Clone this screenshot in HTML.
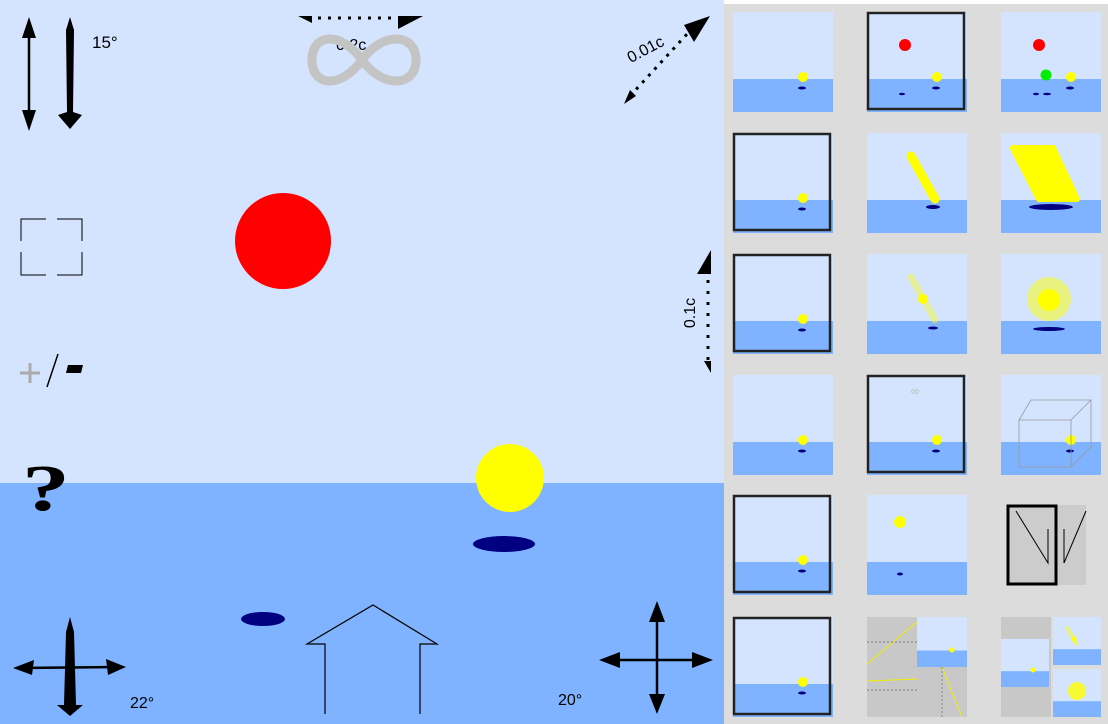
<!DOCTYPE html>
<html><head><meta charset="utf-8"><style>
html,body{margin:0;padding:0;width:1108px;height:724px;overflow:hidden;background:#dcdcdc}
svg{display:block;font-family:"Liberation Sans",sans-serif}
</style></head><body>
<svg width="1108" height="724" viewBox="0 0 1108 724">
<rect x="724" y="0" width="384" height="724" fill="#dcdcdc"/>
<rect x="724" y="0" width="384" height="4" fill="#fff"/>
<g>
<rect x="0" y="0" width="724" height="483" fill="#d4e4ff"/>
<rect x="0" y="483" width="724" height="241" fill="#80b3ff"/>
<circle cx="283" cy="241" r="48" fill="#ff0000"/>
<circle cx="510" cy="478" r="34" fill="#ffff00"/>
<ellipse cx="504" cy="544" rx="31" ry="8" fill="#000080"/>
<ellipse cx="263" cy="619" rx="22" ry="7" fill="#000080"/>
</g>
<g fill="#000">
<line x1="29" y1="22" x2="29" y2="124" stroke="#000" stroke-width="2.5"/>
<path d="M22 38L29 17L36 38z"/><path d="M22 110L29 131L36 110z"/>
<path d="M70 17L74 30L73 112L82 115L70 129L58 115L67 112L66 30z"/>
<text x="92" y="48" font-size="17">15°</text>
</g>
<g stroke="#000" stroke-width="1" fill="none">
<path d="M21 241V219H46M57 219H82V241M82 252V275H57M46 275H21V252"/>
</g>
<g>
<path d="M20 373H40M30 363V383" stroke="#aaa" stroke-width="3"/>
<line x1="47" y1="387" x2="58" y2="354" stroke="#000" stroke-width="1.5"/>
<polygon points="68,365 83,365 81,373 66,373" fill="#000"/>
</g>
<text transform="translate(22,510) scale(1.45,1)" x="0" y="0" font-size="66" font-family="Liberation Serif,serif" font-weight="bold">?</text>
<g>
<line x1="318" y1="18" x2="398" y2="18" stroke="#000" stroke-width="3" stroke-dasharray="3,7"/>
<path d="M298 16L312 16L312 23z"/><path d="M398 16L423 16L398 29z"/>
<text x="336" y="50" font-size="16">0.2c</text>
<path d="M362 60C340 30 312 34 312 60C312 86 340 90 362 60C384 30 416 34 416 60C416 86 384 90 362 60z" fill="none" stroke="#c4c4c4" stroke-width="9"/>
</g>
<g>
<line x1="630" y1="96" x2="688" y2="33" stroke="#000" stroke-width="3" stroke-dasharray="3,6"/>
<path d="M684 25L710 16L694 42z"/><path d="M630 90L624 104L636 96z"/>
<text x="648" y="54" font-size="16" text-anchor="middle" transform="rotate(-28 648 54)">0.01c</text>
</g>
<g>
<line x1="708" y1="280" x2="708" y2="360" stroke="#000" stroke-width="3" stroke-dasharray="3,8"/>
<path d="M697 274L711 250L711 274z"/><path d="M704 361L711 361L711 373z"/>
<text x="695" y="313" font-size="16" text-anchor="middle" transform="rotate(-90 695 313)">0.1c</text>
</g>
<g>
<line x1="18" y1="668" x2="120" y2="667" stroke="#000" stroke-width="2.5"/>
<path d="M13 668L34 660L32 675z"/><path d="M126 667L106 659L108 675z"/>
<path d="M70 617L74 632L76 705L83 705L70 716L57 705L64 705L66 632z"/>
<text x="130" y="708" font-size="16">22°</text>
</g>
<g>
<line x1="604" y1="660" x2="708" y2="660" stroke="#000" stroke-width="2.5"/>
<path d="M599 660L620 652L620 668z"/><path d="M713 660L692 652L692 668z"/>
<line x1="657" y1="606" x2="657" y2="710" stroke="#000" stroke-width="2.5"/>
<path d="M657 601L649 622L665 622z"/><path d="M657 714L649 694L665 694z"/>
<text x="558" y="705" font-size="16">20°</text>
</g>
<path d="M325 714V644H307L373 605L437 644H420V714" fill="none" stroke="#000" stroke-width="1.2"/>
<g id="thumbs"></g>
</svg>
<script>
const NS='http://www.w3.org/2000/svg';
const g=document.getElementById('thumbs');
const cols=[733,867,1001];
const rows=[12,133,254,375,495,617];
function mk(tag,attrs,parent){const e=document.createElementNS(NS,tag);for(const k in attrs)e.setAttribute(k,attrs[k]);(parent||g).appendChild(e);return e;}
function scene(x,y,w,h,parent){
  mk('rect',{x:x,y:y,width:w,height:h,fill:'#d4e4ff'},parent);
  mk('rect',{x:x,y:y+h*0.67,width:w,height:h*0.33,fill:'#80b3ff'},parent);
}
function frame(x,y,parent){mk('rect',{x:x+1,y:y+1,width:96,height:96,fill:'none',stroke:'#222','stroke-width':2.5},parent);}
const types=['plain','framed-red','multi','framed','streak','smear','framed','fade','burst','plain','framed-inf','cube','framed','high','mirror','framed','diagram','mosaic'];
types.forEach((t,i)=>{
  const x=cols[i%3],y=rows[Math.floor(i/3)];
  const th=mk('g',{});
  
  
  if(t==='mirror'){
    mk('rect',{x:x+7,y:y+10,width:78,height:80,fill:'#ccc'},th);
    mk('rect',{x:x+7,y:y+11,width:48,height:78,fill:'none',stroke:'#000','stroke-width':3},th);
    mk('path',{d:`M${x+15} ${y+16}L${x+47} ${y+68}V${y+34}M${x+85} ${y+16}L${x+63} ${y+68}V${y+34}`,fill:'none',stroke:'#000','stroke-width':1},th);
    return;
  }
  if(t==='diagram'){
    mk('rect',{x:x,y:y,width:50,height:100,fill:'#c8c8c8'},th);
    mk('rect',{x:x+50,y:y+50,width:50,height:50,fill:'#c8c8c8'},th);
    scene(x+50,y,50,50,th);
    mk('circle',{cx:x+85,cy:y+33,r:2.5,fill:'#ff0'},th);
    mk('path',{d:`M${x} ${y+47}L${x+50} ${y+5}M${x} ${y+64}L${x+50} ${y+62}M${x+75} ${y+50}L${x+95} ${y+100}`,stroke:'#ee0','stroke-width':1},th);
    mk('path',{d:`M${x} ${y+25}H${x+50}M${x} ${y+73}H${x+50}M${x+75} ${y+50}V${y+100}`,stroke:'#666','stroke-width':0.7,'stroke-dasharray':'2,2'},th);
    return;
  }
  if(t==='mosaic'){
    mk('rect',{x:x,y:y,width:50,height:100,fill:'#c8c8c8'},th);
    scene(x,y+22,48,48,th);
    mk('circle',{cx:x+32,cy:y+53,r:2.5,fill:'#ff0'},th);
    scene(x+52,y,48,48,th);
    mk('line',{x1:x+66,y1:y+10,x2:x+76,y2:y+28,stroke:'#ff0','stroke-width':4,opacity:0.5},th);
    mk('circle',{cx:x+73,cy:y+22,r:2.5,fill:'#ff0'},th);
    scene(x+52,y+52,48,48,th);
    mk('circle',{cx:x+76,cy:y+74,r:9,fill:'#ff0',opacity:0.8},th);
    return;
  }
  scene(x,y,100,100,th);
  let bx=x+70,by=y+65,bw=5;
  if(t==='high'){mk('circle',{cx:x+33,cy:y+27,r:6,fill:'#ff0'},th);mk('ellipse',{cx:x+33,cy:y+79,rx:3,ry:1.5,fill:'#000080'},th);}
  else if(t==='streak'){mk('line',{x1:x+44,y1:y+23,x2:x+68,y2:y+66,stroke:'#ff0','stroke-width':9,'stroke-linecap':'round'},th);mk('ellipse',{cx:x+66,cy:y+74,rx:7,ry:2,fill:'#000080'},th);}
  else if(t==='smear'){mk('path',{d:`M${x+12} ${y+15}H${x+52}L${x+76} ${y+66}H${x+38}z`,fill:'#ff0','stroke':'#ff0','stroke-width':6,'stroke-linejoin':'round'},th);mk('ellipse',{cx:x+50,cy:y+74,rx:22,ry:3,fill:'#000080'},th);}
  else if(t==='fade'){mk('line',{x1:x+44,y1:y+23,x2:x+68,y2:y+66,stroke:'#ff0','stroke-width':7,'stroke-linecap':'round',opacity:0.4},th);mk('circle',{cx:x+56,cy:y+45,r:5,fill:'#ff0'},th);mk('ellipse',{cx:x+66,cy:y+74,rx:5,ry:1.5,fill:'#000080'},th);}
  else if(t==='burst'){mk('circle',{cx:x+48,cy:y+45,r:22,fill:'#ff0',opacity:0.5},th);mk('circle',{cx:x+48,cy:y+46,r:11,fill:'#ff0'},th);mk('ellipse',{cx:x+48,cy:y+75,rx:16,ry:2,fill:'#000080'},th);}
  else{
    mk('circle',{cx:bx,cy:by,r:bw,fill:'#ff0'},th);
    mk('ellipse',{cx:bx-1,cy:by+11,rx:4,ry:1.5,fill:'#000080'},th);
  }
  if(t==='framed-red'||t==='multi'){mk('circle',{cx:x+38,cy:y+33,r:6,fill:'#f00'},th);mk('ellipse',{cx:x+35,cy:y+82,rx:3,ry:1.2,fill:'#000080'},th);}
  if(t==='multi'){mk('circle',{cx:x+45,cy:y+63,r:5.5,fill:'#0e0'},th);mk('ellipse',{cx:x+46,cy:y+82,rx:4,ry:1.3,fill:'#000080'},th);}
  if(t==='cube'){mk('path',{d:`M${x+18} ${y+45}H${x+70}V${y+92}H${x+18}zM${x+18} ${y+45}L${x+30} ${y+25}H${x+90}V${y+72}L${x+70} ${y+92}M${x+90} ${y+25}L${x+70} ${y+45}`,fill:'none',stroke:'#999','stroke-width':0.8},th);}
  if(t==='framed-inf'){const tx=mk('text',{x:x+48,y:y+20,'font-size':12,fill:'#bbb','text-anchor':'middle'},th);tx.textContent='∞';}
  if(t.indexOf('framed')===0)frame(x,y,th);
});
</script>
</body></html>
